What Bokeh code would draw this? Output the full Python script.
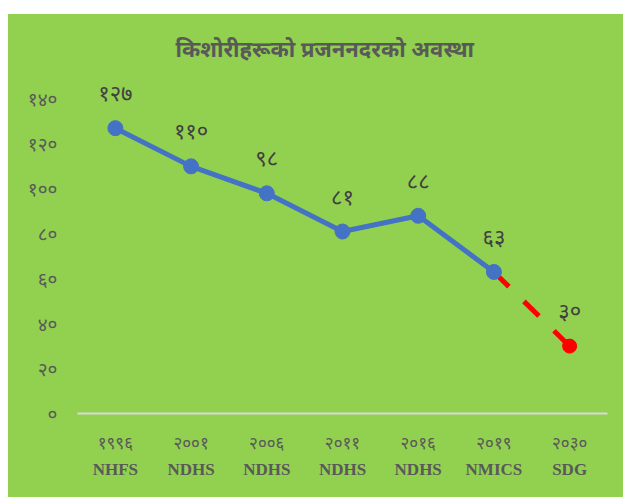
from bokeh.plotting import figure
from bokeh.models import FactorRange, Range1d, CategoricalAxis, FixedTicker, ColumnDataSource, Spacer
from bokeh.layouts import column, row
from bokeh.embed import file_html
from bokeh.resources import INLINE
from bokeh.core.properties import value

title = "किशोरीहरूको प्रजननदरको अवस्था"
years = ["१९९६", "२००१", "२००६", "२०११", "२०१६", "२०१९", "२०३०"]
surveys = ["NHFS", "NDHS", "NDHS", "NDHS", "NDHS", "NMICS", "SDG"]
values = [127, 110, 98, 81, 88, 63, 30]
labels = ["१२७", "११०", "९८", "८१", "८८", "६३", "३०"]
y_ticks = [0, 20, 40, 60, 80, 100, 120, 140]
y_tick_labels = ["०", "२०", "४०", "६०", "८०", "१००", "१२०", "१४०"]

GREEN = "#92D050"
BLUE = "#4472C4"
GRAY = "#595959"

# unique factor names for the survey axis (zero-width spaces keep repeats distinct)
svy_factors = [s + "\u200b" * i for i, s in enumerate(surveys)]

p = figure(width=615, height=483, output_backend="svg", toolbar_location=None,
           x_range=FactorRange(*years, range_padding=0), y_range=Range1d(0, 150),
           x_axis_location=None)
p.extra_x_ranges = {"svy": FactorRange(*svy_factors, range_padding=0)}
p.background_fill_color = None
p.border_fill_color = None
p.styles = {"background-color": GREEN}
p.outline_line_color = None
p.xgrid.visible = False
p.ygrid.visible = False
p.min_border_left = 69
p.min_border_right = 16
p.min_border_top = 62
p.min_border_bottom = 84

p.title.text = title
p.title.align = "left"
p.title.offset = 98
p.title.text_font = "Noto Sans"
p.title.text_font_size = "22px"
p.title.text_font_style = "bold"
p.title.text_color = GRAY
p.title.standoff = 27

# y axis
ya = p.yaxis[0]
ya.ticker = FixedTicker(ticks=y_ticks)
ya.major_label_overrides = {t: l for t, l in zip(y_ticks, y_tick_labels)}
ya.axis_line_color = None
ya.major_tick_line_color = None
ya.major_tick_out = 0
ya.major_tick_in = 0
ya.minor_tick_line_color = None
ya.major_label_text_color = GRAY
ya.major_label_text_font = "Noto Sans"
ya.major_label_text_font_size = "19px"
ya.major_label_standoff = 20

# x axes
ax1 = CategoricalAxis(axis_line_color="#D9D9D9", axis_line_width=2,
                      major_tick_line_color=None, major_tick_out=0, major_tick_in=0,
                      minor_tick_line_color=None,
                      major_label_text_color=GRAY, major_label_text_font="Noto Sans",
                      major_label_text_font_size="17px", major_label_standoff=17)
p.add_layout(ax1, "below")
ax2 = CategoricalAxis(x_range_name="svy", axis_line_color=None,
                      major_tick_line_color=None, major_tick_out=0, major_tick_in=0,
                      minor_tick_line_color=None,
                      major_label_text_color=GRAY, major_label_text_font="Liberation Serif",
                      major_label_text_font_style="bold",
                      major_label_text_font_size="17px", major_label_standoff=3)
p.add_layout(ax2, "below")

src = ColumnDataSource(dict(x=years, y=values, lab=labels))
main = ColumnDataSource(dict(x=years[:6], y=values[:6]))
proj = ColumnDataSource(dict(x=years[5:], y=values[5:]))
end = ColumnDataSource(dict(x=years[6:], y=values[6:]))

p.line("x", "y", source=proj, line_color="red", line_width=5, line_dash="21 21")
p.scatter("x", "y", source=end, size=14, fill_color="red", line_color="red")
p.line("x", "y", source=main, line_color=BLUE, line_width=5)
p.scatter("x", "y", source=main, size=15, fill_color=BLUE, line_color=BLUE)

p.text("x", "y", text="lab", source=src, y_offset=-36, text_align="center",
       text_baseline="middle", text_color="#404040", text_font_size="22px",
       text_font=value("Noto Sans"))

layout = column(Spacer(height=14), row(Spacer(width=8), p))
open("out.html", "w").write(file_html(layout, INLINE))
